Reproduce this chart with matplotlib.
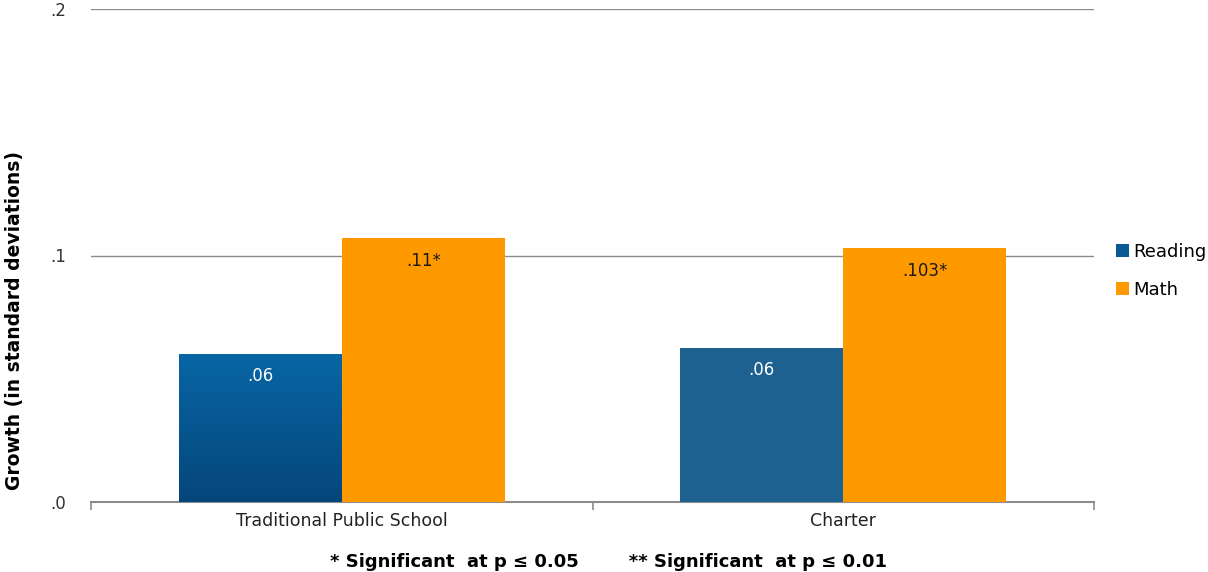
import numpy as np
import matplotlib.pyplot as plt
from matplotlib.patches import Patch
from matplotlib.colors import LinearSegmentedColormap

categories = ["Traditional Public School", "Charter"]
reading = [0.06, 0.0625]
math = [0.107, 0.103]
reading_labels = [".06", ".06"]
math_labels = [".11*", ".103*"]
yticks = [0.0, 0.1, 0.2]
ytick_labels = [".0", ".1", ".2"]

orange = "#ff9900"
blue_flat = "#1d6190"
grid_col = "#8c8c8c"

plt.rcParams['font.family'] = ['DejaVu Sans']

fig = plt.figure(figsize=(12.08, 5.72), dpi=100)
ax = fig.add_axes([91 / 1208, 1 - 502 / 572, (1094 - 91) / 1208, (502 - 9) / 572])

x = np.arange(len(categories))
w = 0.325

rbars = ax.bar(x - w / 2, reading, w, color=blue_flat, zorder=3)
mbars = ax.bar(x + w / 2, math, w, color=orange, zorder=3)

# gradient on the first reading bar
b = rbars[0]
grad = np.linspace(0, 1, 256).reshape(-1, 1)
cmap = LinearSegmentedColormap.from_list("g", ["#05467a", "#0866a5"])
b.set_facecolor("none")
ax.imshow(grad, cmap=cmap, aspect="auto", origin="lower",
          extent=[b.get_x(), b.get_x() + b.get_width(), 0, b.get_height()], zorder=3)

for i in range(len(categories)):
    ax.text(x[i] - w / 2, reading[i] - 0.009, reading_labels[i], ha="center", va="center",
            color="white", fontsize=12, zorder=4)
    ax.text(x[i] + w / 2, math[i] - 0.0092, math_labels[i], ha="center", va="center",
            color="#1a1a1a", fontsize=12, zorder=4)

ax.set_xlim(-0.5, 1.5)
ax.set_ylim(0, 0.2)
ax.set_yticks(yticks)
ax.set_yticklabels(ytick_labels, fontsize=12, color="#333333")
ax.tick_params(axis="y", length=0, pad=18)
ax.yaxis.grid(True, color=grid_col, linewidth=1.0, zorder=0)
ax.set_axisbelow(True)

ax.set_xticks(x)
ax.set_xticklabels(categories, fontsize=12.5, color="#222222")
ax.tick_params(axis="x", which="major", length=0, pad=7)
ax.set_xticks([-0.5, 0.5, 1.5], minor=True)
ax.tick_params(axis="x", which="minor", length=6, color=grid_col, width=1.2)

for s in ["top", "right", "left"]:
    ax.spines[s].set_visible(False)
ax.spines["bottom"].set_color(grid_col)
ax.spines["bottom"].set_linewidth(1.5)

fig.text(15 / 1208, 1 - 320 / 572, "Growth (in standard deviations)", rotation=90,
         ha="center", va="center", fontsize=13.5, fontweight="bold")

handles = [Patch(facecolor="#0a5a92"), Patch(facecolor=orange)]
fig.legend(handles, ["Reading", "Math"], loc="center left", bbox_to_anchor=(1116 / 1208, 1 - 271 / 572),
           frameon=False, fontsize=13, handlelength=0.7, handleheight=0.7, handletextpad=0.25,
           labelspacing=1.1, borderpad=0, borderaxespad=0)

fig.text(608 / 1208, 1 - 562 / 572,
         "* Significant  at p \u2264 0.05        ** Significant  at p \u2264 0.01",
         ha="center", va="center", fontsize=13, fontweight="bold")

fig.savefig("out.png", dpi=100)
